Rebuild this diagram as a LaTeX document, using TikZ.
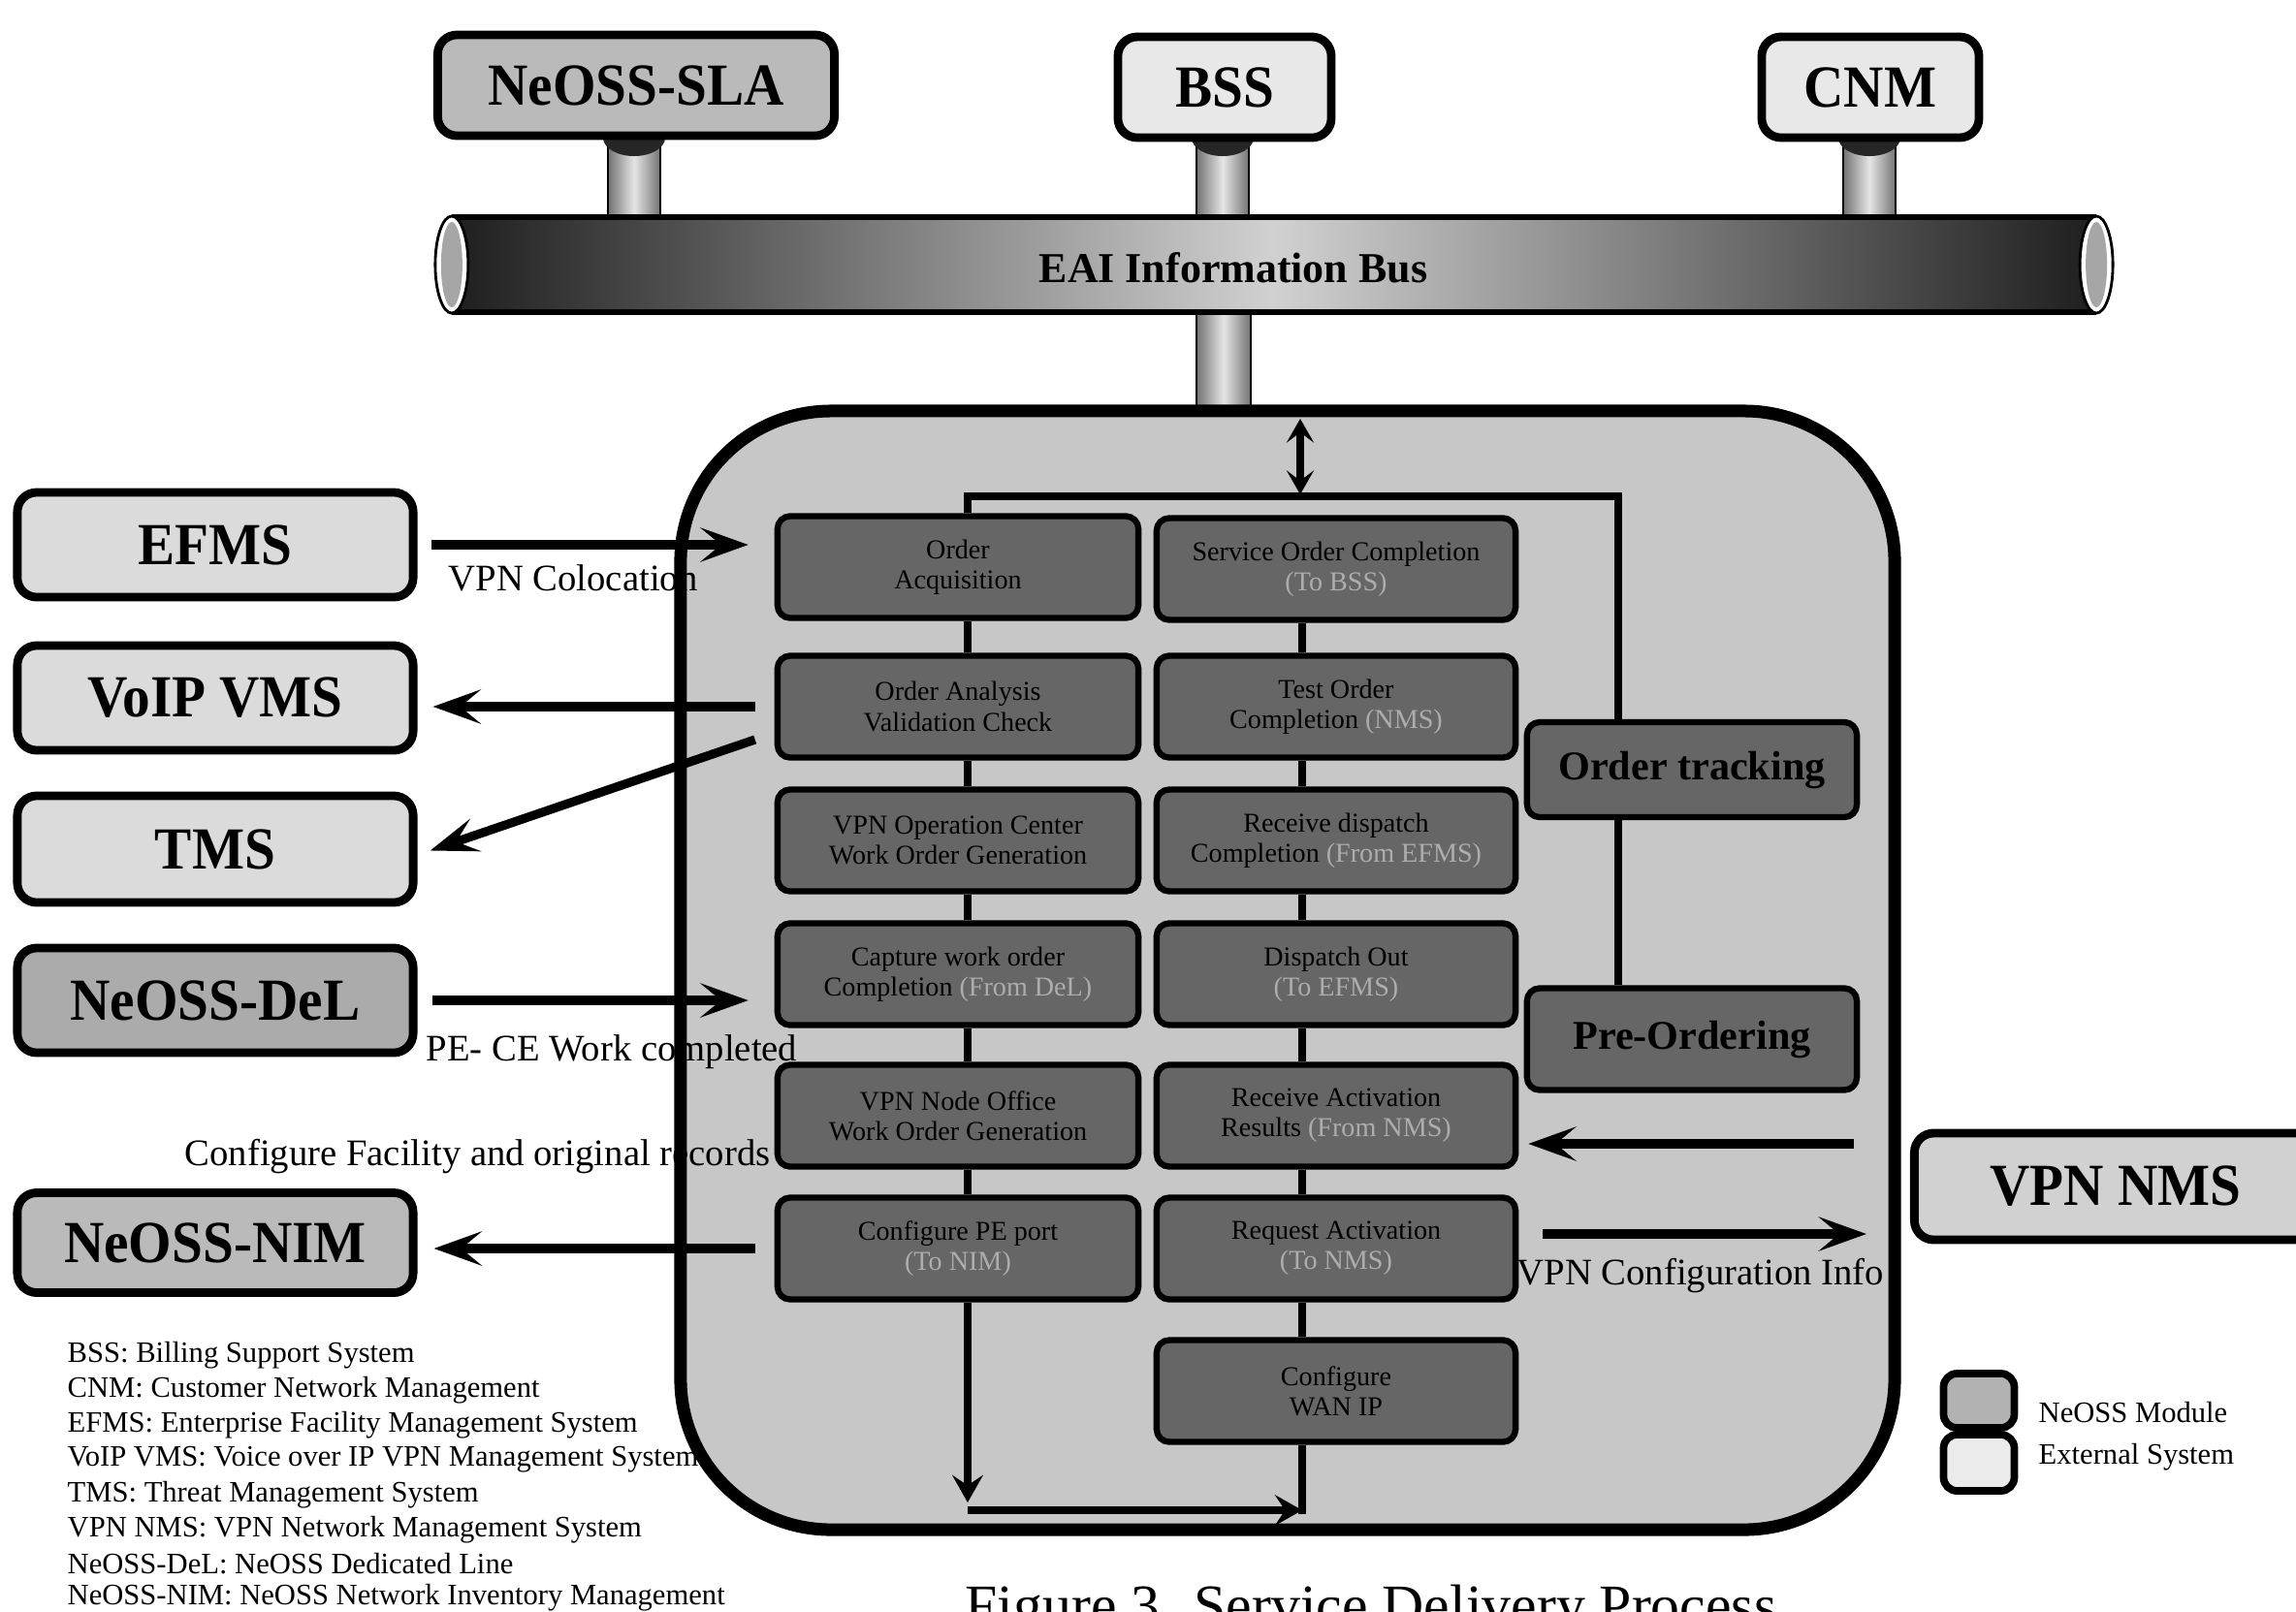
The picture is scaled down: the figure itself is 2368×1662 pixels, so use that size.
\documentclass[tikz,border=0pt]{standalone}
\usepackage{fontspec}
\setmainfont{Liberation Serif}
\usetikzlibrary{arrows.meta,calc}
\newcommand\bgt[1]{\scalebox{0.93}[1]{#1}}
\newcommand\faintx[1]{\textcolor{black!32}{#1}}
\begin{document}
\begin{tikzpicture}[x=0.01cm,y=-0.01cm,
  bigfont/.style={font=\fontsize{17.5}{20}\selectfont\bfseries},
  extbox/.style={draw=black, line width=2.5pt, rounded corners=0.2cm, fill=black!14, inner sep=0pt, bigfont},
  neossbox/.style={extbox, fill=black!27},
  mod/.style={draw=black, line width=1.8pt, rounded corners=0.13cm, fill=black!60, align=center,
     font=\fontsize{8}{8.9}\selectfont, inner sep=0pt, minimum height=1.05cm},
  modl/.style={mod, minimum width=3.72cm},
  modr/.style={mod, minimum width=3.70cm},
  trk/.style={mod, minimum width=3.4cm, font=\fontsize{12}{14}\selectfont\bfseries},
  conn/.style={line width=2.3pt},
  arr/.style={line width=2.6pt, -{Stealth[length=14pt,width=10pt,inset=6pt]}},
  arrs/.style={line width=2.3pt, -{Stealth[length=8pt,width=9pt,inset=3pt]}},
  dbl/.style={line width=2pt, {Stealth[length=7pt,width=8pt,inset=3pt]}-{Stealth[length=7pt,width=8pt,inset=3pt]}},
  lbl/.style={font=\fontsize{11}{13}\selectfont, inner sep=0pt, anchor=west},
  leg/.style={font=\fontsize{8.7}{10}\selectfont, inner sep=0pt, anchor=west},
  legbox/.style={draw=black, line width=2.2pt, rounded corners=0.14cm, inner sep=0pt, minimum width=0.73cm},
  stem/.style={left color=black!55, right color=black!55, middle color=black!10, draw=black, line width=0.6pt}
]
\useasboundingbox (0,0) rectangle (2368,1662);
\fill[white] (0,0) rectangle (2368,1662);

% ---- stems to the bus
\foreach \sx in {654,1261,1928}{
  \shade[stem] (\sx-27,150) rectangle (\sx+27,228);
  \fill[black!85] (\sx,142) ellipse [x radius=0.32cm, y radius=0.19cm];
}
\shade[stem] (1234,318) rectangle (1290,428);

% ---- EAI bus
\node[draw=black, line width=1.5pt, left color=black!88, right color=black!88, middle color=black!18,
      minimum width=16.9cm, minimum height=0.98cm, inner sep=0pt] (bus) at (1314,273) {};
\foreach \e in {west,east}{
  \draw[black, line width=0.8pt, fill=white] (bus.\e) ellipse [x radius=0.17cm, y radius=0.50cm];
  \fill[black!35] (bus.\e) ellipse [x radius=0.11cm, y radius=0.44cm];
}
\node[font=\fontsize{12.5}{14}\selectfont\bfseries, inner sep=0pt] (buslbl) at (1272,276) {EAI Information Bus};

% ---- top systems
\node[neossbox, minimum width=4.09cm, minimum height=1.04cm] (sla) at (656,88) {\bgt{NeOSS-SLA}};
\node[extbox, fill=black!9, minimum width=2.20cm, minimum height=1.04cm] (bss) at (1263,90) {\bgt{BSS}};
\node[extbox, fill=black!9, minimum width=2.24cm, minimum height=1.04cm] (cnm) at (1929,90) {\bgt{CNM}};

% ---- main container (fill)
\node[fill=black!22, rounded corners=1.55cm, minimum width=12.5cm, minimum height=11.52cm, inner sep=0pt] (main) at (1328,1001) {};

% ---- modules
\node[modl] (l1) at (988,585)  {Order\\Acquisition};
\node[modl] (l2) at (988,729)  {Order Analysis\\Validation Check};
\node[modl] (l3) at (988,867)  {VPN Operation Center\\Work Order Generation};
\node[modl] (l4) at (988,1005) {Capture work order\\Completion \faintx{(From DeL)}};
\node[modl] (l5) at (988,1151) {VPN Node Office\\Work Order Generation};
\node[modl] (l6) at (988,1288) {Configure PE port\\\faintx{(To NIM)}};
\node[modr] (r1) at (1378,587)  {Service Order Completion\\\faintx{(To BSS)}};
\node[modr] (r2) at (1378,729)  {Test Order\\Completion \faintx{(NMS)}};
\node[modr] (r3) at (1378,867)  {Receive dispatch\\Completion \faintx{(From EFMS)}};
\node[modr] (r4) at (1378,1005) {Dispatch Out\\\faintx{(To EFMS)}};
\node[modr] (r5) at (1378,1151) {Receive Activation\\Results \faintx{(From NMS)}};
\node[modr] (r6) at (1378,1288) {Request Activation\\\faintx{(To NMS)}};
\node[modr] (r7) at (1378,1435) {Configure\\WAN IP};

% ---- internal connectors
\coordinate (xl) at (998,0);
\coordinate (xr) at (1343,0);
\coordinate (tl) at (1669,512);
\coordinate (da) at (1341,432);
\coordinate (db) at (1341,510);
\coordinate (dl) at (998,1550);
\coordinate (bl) at (998,1558);
\coordinate (br) at (1343,1558);
\coordinate (brb) at (1343,1562);

\node[trk, minimum height=0.98cm] (otr) at (1745,794) {Order tracking};
\node[trk] (pre) at (1745,1072) {Pre-Ordering};

\draw[conn] (l1.north -| xl) |- (tl) -- (otr.north -| tl);
\draw[conn] (otr.south -| tl) -- (pre.north -| tl);
\draw[dbl] (da) -- (db);
\foreach \a/\b in {l1/l2,l2/l3,l3/l4,l4/l5,l5/l6}
  \draw[conn] (\a.south -| xl) -- (\b.north -| xl);
\foreach \a/\b in {r1/r2,r2/r3,r3/r4,r4/r5,r5/r6,r6/r7}
  \draw[conn] (\a.south -| xr) -- (\b.north -| xr);
\draw[arrs] (l6.south -| xl) -- (dl);
\draw[conn] (r7.south -| xr) -- (brb);
\draw[arrs] (bl) -- (br);

% ---- left external systems
\node[extbox, minimum width=4.08cm, minimum height=1.08cm] (efms) at (222,562)  {\bgt{EFMS}};
\node[extbox, minimum width=4.08cm, minimum height=1.08cm] (voip) at (222,720)  {\bgt{VoIP VMS}};
\node[extbox, minimum width=4.08cm, minimum height=1.10cm] (tms)  at (222,876)  {\bgt{TMS}};
\node[neossbox, fill=black!33, minimum width=4.08cm, minimum height=1.08cm] (del) at (222,1032) {\bgt{NeOSS-DeL}};
\node[neossbox, minimum width=4.08cm, minimum height=1.03cm] (nim) at (222,1282) {\bgt{NeOSS-NIM}};
\node[extbox, fill=black!18, minimum width=4.15cm, minimum height=1.10cm] (vpnnms) at (2182,1224) {\bgt{VPN NMS}};

% ---- edge labels
\node[lbl] (lcol) at (462,596)  {VPN Colocation};
\node[lbl] (lpe)  at (439,1085) {PE- CE Work completed};
\node[lbl] (lcfg) at (190,1193) {Configure Facility and original records};
\node[lbl] (lvpn) at (1564,1316) {VPN Configuration Info};

% ---- abbreviations
\node[leg] (ab1) at (69,1398) {BSS: Billing Support System};
\node[leg] (ab2) at (69,1434) {CNM: Customer Network Management};
\node[leg] (ab3) at (69,1470) {EFMS: Enterprise Facility Management System};
\node[leg] (ab4) at (69,1506) {VoIP VMS: Voice over IP VPN Management System};
\node[leg] (ab5) at (69,1542) {TMS: Threat Management System};
\node[leg] (ab6) at (69,1578) {VPN NMS: VPN Network Management System};
\node[leg] (ab7) at (69,1613) {NeOSS-DeL: NeOSS Dedicated Line};
\node[leg] (ab8) at (69,1648) {NeOSS-NIM: NeOSS Network Inventory Management};

% ---- main container border
\draw[line width=3.7pt, rounded corners=1.55cm] (main.north west) rectangle (main.south east);

% ---- external arrows
\draw[arr, shorten <=0.14cm, shorten >=0.27cm] (efms.east) -- (efms.east -| l1.west);
\draw[arr, shorten <=0.2cm, shorten >=0.16cm] (l2.west) -- (l2.west -| voip.east);
\draw[arr, shorten >=0.14cm] ($(l2.west)+(-20,34)$) -- ($(tms.east)+(0,6)$);
\draw[arr, shorten <=0.15cm, shorten >=0.27cm] (del.east) -- (del.east -| l4.west);
\draw[arr, shorten <=0.2cm, shorten >=0.17cm] (l6.west) -- (l6.west -| nim.east);
\draw[arr, shorten <=0.58cm, shorten >=0.1cm] ($(vpnnms.west)+(0,-44)$) -- ($(vpnnms.west -| r5.east)+(0,-44)$);
\draw[arr, shorten <=0.25cm, shorten >=0.45cm] ($(r6.east)+(0,-15)$) -- ($(r6.east -| vpnnms.west)+(0,-15)$);

% ---- legend
\node[legbox, fill=black!30, minimum height=0.56cm] (lgn) at (2041,1445) {};
\node[legbox, fill=black!8, minimum height=0.58cm] (lge) at (2041,1509) {};
\node[leg] (lgnt) at (2102,1457) {NeOSS Module};
\node[leg] (lget) at (2102,1503) {External System};

% ---- caption (cut by the page edge, as in the reference)
\node[anchor=base west, inner sep=0pt, font=\fontsize{17}{20}\selectfont] (cap) at (995,1676) {Figure 3. Service Delivery Process};
\end{tikzpicture}
\end{document}
